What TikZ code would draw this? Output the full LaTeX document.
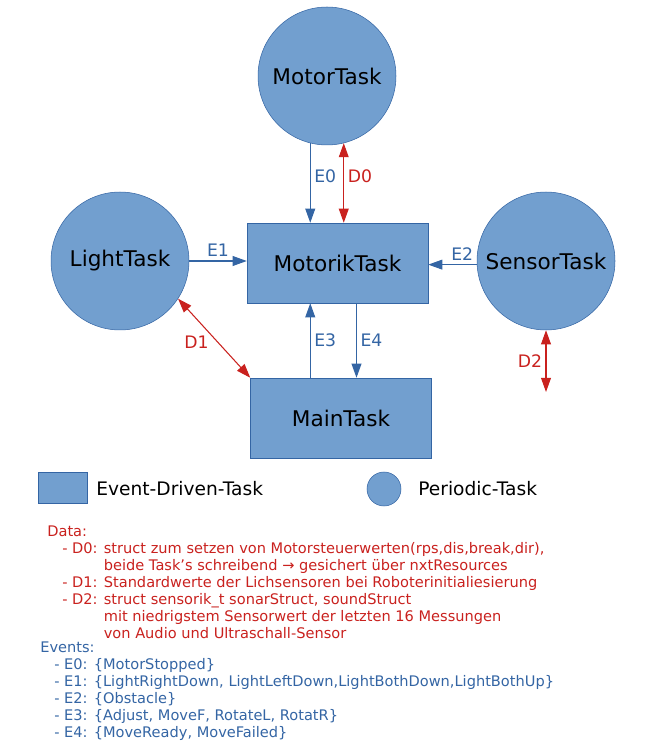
\documentclass[tikz,border=0pt]{standalone}
\usepackage{fontspec}
\setmainfont{DejaVu Sans}
\usetikzlibrary{arrows.meta}
\definecolor{taskfill}{HTML}{729FCF}
\definecolor{taskline}{HTML}{3465A4}
\definecolor{evtblue}{HTML}{3465A4}
\definecolor{datred}{HTML}{C9211E}
\begin{document}
\begin{tikzpicture}[x=0.02cm, y=-0.02cm,
	periodic/.style={circle, fill=taskfill, draw=taskline, line width=0.3pt,
		minimum size=2.76cm, inner sep=0pt, font=\fontsize{12.3}{15}\selectfont},
	eventdriven/.style={rectangle, fill=taskfill, draw=taskline, line width=0.3pt,
		minimum width=3.62cm, minimum height=1.6cm, inner sep=0pt, font=\fontsize{12.3}{15}\selectfont},
	evt/.style={draw=evtblue, line width=0.6pt, -{Triangle[length=8pt,width=5.6pt]}},
	dat/.style={draw=datred, line width=0.6pt, {Triangle[length=8pt,width=5.6pt]}-{Triangle[length=8pt,width=5.6pt]}},
	lbl/.style={font=\fontsize{9.8}{11}\selectfont, inner sep=2pt},
	legend/.style={anchor=west, inner sep=0pt, font=\fontsize{10.6}{12}\selectfont},
	notes/.style={anchor=north west, align=left, inner sep=0pt, font=\fontsize{8.3}{9.64}\selectfont}]
	\useasboundingbox (0,0) rectangle (662,756);

	% Tasks
	\node[periodic] (MotorTask) at (327,76) {MotorTask};
	\node[periodic] (LightTask) at (120,261) {LightTask};
	\node[periodic] (SensorTask) at (546,261) {SensorTask};
	\node[eventdriven] (MotorikTask) at (337.5,263) {MotorikTask};
	\node[eventdriven] (MainTask) at (341,418) {MainTask};
	\coordinate (D2end) at (546,392);

	% Events
	\draw[evt] (MotorTask.256) -- (MotorTask.256 |- MotorikTask.north)
		node[lbl, pos=0.42, right, text=evtblue] {E0};
	\draw[evt] (LightTask.east) -- (MotorikTask.west |- LightTask.east)
		node[lbl, midway, above, text=evtblue] {E1};
	\draw[evt] (SensorTask.183) -- (MotorikTask.east |- SensorTask.183)
		node[lbl, pos=0.3, above, text=evtblue] {E2};
	\draw[evt] (MainTask.north -| MotorTask.256) -- (MotorikTask.south -| MotorTask.256)
		node[lbl, midway, right, text=evtblue] {E3};
	\draw[evt] ([xshift=0.38cm]MotorikTask.south) -- ([xshift=0.38cm]MotorikTask.south |- MainTask.north)
		node[lbl, midway, right, text=evtblue] {E4};

	% Data
	\draw[dat] (MotorTask.284) -- (MotorTask.284 |- MotorikTask.north)
		node[lbl, pos=0.42, right, text=datred] {D0};
	\draw[dat] (LightTask.327) -- (MainTask.north west)
		node[lbl, pos=0.55, left=3pt, text=datred] {D1};
	\draw[dat] (SensorTask.south) -- (D2end)
		node[lbl, midway, left, text=datred] {D2};

	% Legend
	\node[eventdriven, minimum width=0.98cm, minimum height=0.62cm] (LegRect) at (62.5,487.5) {};
	\node[legend] (LegRectText) at (96,489) {Event-Driven-Task};
	\node[periodic, minimum size=0.68cm] (LegCircle) at (384,489) {};
	\node[legend] (LegCircleText) at (418,489) {Periodic-Task};

	% Notes
	\node[notes, text=datred] (DataText) at (47,526) {Data:\\
		\hspace*{0.3cm}- D0: struct zum setzen von Motorsteuerwerten(rps,dis,break,dir),\\
		\hspace*{0.3cm}\phantom{- D0: }beide Task's schreibend \char"2192{} gesichert über nxtResources\\
		\hspace*{0.3cm}- D1: Standardwerte der Lichsensoren bei Roboterinitialiesierung\\
		\hspace*{0.3cm}- D2: struct sensorik\_t sonarStruct, soundStruct\\
		\hspace*{0.3cm}\phantom{- D2: }mit niedrigstem Sensorwert der letzten 16 Messungen\\
		\hspace*{0.3cm}\phantom{- D2: }von Audio und Ultraschall-Sensor};
	\node[notes, text=evtblue] (EventText) at (40,642) {Events:\\
		\hspace*{0.28cm}- E0: \{MotorStopped\}\\
		\hspace*{0.28cm}- E1: \{LightRightDown, LightLeftDown,LightBothDown,LightBothUp\}\\
		\hspace*{0.28cm}- E2: \{Obstacle\}\\
		\hspace*{0.28cm}- E3: \{Adjust, MoveF, RotateL, RotatR\}\\
		\hspace*{0.28cm}- E4: \{MoveReady, MoveFailed\}};
\end{tikzpicture}
\end{document}
